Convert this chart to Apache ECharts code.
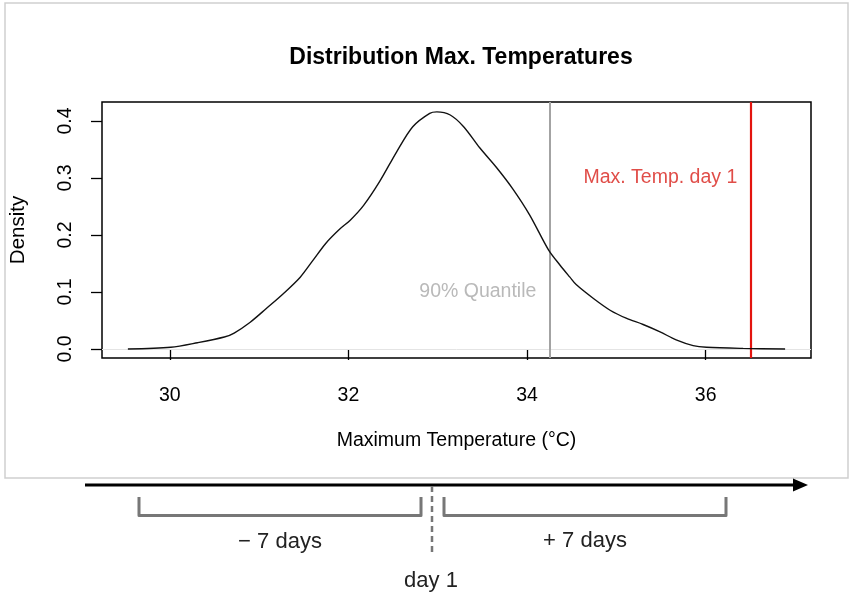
<!DOCTYPE html>
<html>
<head>
<meta charset="utf-8">
<script src="https://cdn.jsdelivr.net/npm/echarts@6/dist/echarts.min.js"></script>
<style>
  html, body { margin: 0; padding: 0; background: #fff; }
  #main { width: 851px; height: 594px; }
</style>
</head>
<body>
<div id="main"></div>
<script>
// density curve
var temps = [29.53, 30.01, 30.31, 30.61, 30.72, 30.9, 31.08, 31.27, 31.46, 31.6, 31.75, 31.9,
  32.02, 32.17, 32.35, 32.54, 32.72, 32.91, 32.99, 33.14, 33.29, 33.47, 33.66, 33.84, 34.03,
  34.24, 34.37, 34.48, 34.55, 34.74, 34.93, 35.11, 35.3, 35.49, 35.67, 35.86, 36.01, 36.42, 36.89];
var density = [0.0, 0.003, 0.011, 0.021, 0.028, 0.047, 0.071, 0.097, 0.126, 0.155, 0.186, 0.21,
  0.226, 0.252, 0.294, 0.346, 0.39, 0.4135, 0.416, 0.4105, 0.39, 0.353, 0.318, 0.281, 0.235,
  0.174, 0.147, 0.126, 0.113, 0.089, 0.068, 0.054, 0.043, 0.03, 0.016, 0.006, 0.003, 0.001, 0.0];

var xTicks = [30, 32, 34, 36];
var yTicks = [0, 0.1, 0.2, 0.3, 0.4];

var quantile90 = 34.25;
var maxTempDay1 = 36.5;
var quantileLabel = '90% Quantile';
var dayLabel = 'Max. Temp. day 1';
var quantileLabelY = 0.1;
var dayLabelY = 0.3;

var timelineLabels = ['\u2212 7 days', '+ 7 days', 'day 1'];

var font = '"Liberation Sans", Arial, Helvetica, sans-serif';
var fs = 19.5;

var chart = echarts.init(document.getElementById('main'));

var curve = temps.map(function (t, i) { return [t, density[i]]; });

var bracketStyle = { stroke: '#777', lineWidth: 3, fill: null, lineJoin: 'round' };
var timeFont = '22px ' + font;

var option = {
  backgroundColor: '#fff',
  animation: false,
  title: {
    text: 'Distribution Max. Temperatures',
    left: 456,
    top: 41,
    textAlign: 'center',
    textStyle: { fontFamily: font, fontSize: 23, fontWeight: 'bold', color: '#000' }
  },
  grid: {
    left: 101, right: 40, top: 102, bottom: 236,
    show: true, borderColor: '#000', borderWidth: 1.5, backgroundColor: 'transparent'
  },
  xAxis: {
    type: 'value',
    min: 29.24, max: 37.18,
    name: 'Maximum Temperature (\u00b0C)',
    nameLocation: 'middle',
    nameGap: 73,
    nameTextStyle: { fontFamily: font, fontSize: fs, color: '#000' },
    splitLine: { show: false },
    axisLine: { show: false },
    axisTick: { show: true, inside: false, length: 11, customValues: xTicks, lineStyle: { color: '#000', width: 1.3 } },
    axisLabel: { customValues: xTicks, margin: 28, fontFamily: font, fontSize: fs, color: '#000' }
  },
  yAxis: {
    type: 'value',
    min: -0.0158, max: 0.4333,
    name: 'Density',
    nameLocation: 'middle',
    nameGap: 73,
    nameTextStyle: { fontFamily: font, fontSize: fs + 1, color: '#000' },
    splitLine: { show: false },
    axisLine: { show: false },
    axisTick: { show: true, inside: false, length: 11, customValues: yTicks, lineStyle: { color: '#000', width: 1.3 } },
    axisLabel: {
      customValues: yTicks, rotate: 90, margin: 26,
      fontFamily: font, fontSize: fs, color: '#000',
      formatter: function (v) { return v.toFixed(1); }
    }
  },
  series: [
    {
      type: 'line',
      data: curve,
      smooth: 0.3,
      showSymbol: false,
      lineStyle: { color: '#111', width: 1.4 },
      z: 5,
      markLine: {
        silent: true,
        symbol: 'none',
        label: { show: false },
        data: [
          { yAxis: 0, lineStyle: { color: '#e4e4e4', width: 1, type: 'solid' } },
          { xAxis: quantile90, lineStyle: { color: '#a3a3a3', width: 2, type: 'solid' } },
          { xAxis: maxTempDay1, lineStyle: { color: '#e3140f', width: 2.2, type: 'solid' } }
        ]
      }
    },
    {
      type: 'scatter',
      symbolSize: 0,
      silent: true,
      data: [
        { value: [quantile90, quantileLabelY], name: quantileLabel, label: { color: '#a8a8a8' } },
        { value: [maxTempDay1, dayLabelY], name: dayLabel, label: { color: '#d8201a' } }
      ],
      label: {
        show: true,
        position: 'left',
        distance: 13,
        fontFamily: font,
        fontSize: fs,
        formatter: function (p) { return p.name; }
      }
    }
  ],
  graphic: [
    { type: 'rect', z: -1, shape: { x: 5, y: 3, width: 843, height: 475 }, style: { fill: null, stroke: '#cfcfcf', lineWidth: 1.5 } },
    { type: 'line', shape: { x1: 85, y1: 485, x2: 796, y2: 485 }, style: { stroke: '#000', lineWidth: 3 } },
    { type: 'polygon', shape: { points: [[793, 478.5], [808, 485], [793, 491.5]] }, style: { fill: '#000' } },
    { type: 'polyline', shape: { points: [[139, 497], [139, 515.5], [421, 515.5], [421, 497]] }, style: bracketStyle },
    { type: 'polyline', shape: { points: [[444, 497], [444, 515.5], [726, 515.5], [726, 497]] }, style: bracketStyle },
    { type: 'line', shape: { x1: 432, y1: 486, x2: 432, y2: 554 }, style: { stroke: '#777', lineWidth: 2.5, lineDash: [6, 4] } },
    { type: 'text', x: 280, y: 542, style: { text: timelineLabels[0], font: timeFont, fill: '#222', align: 'center', verticalAlign: 'middle' } },
    { type: 'text', x: 585, y: 541, style: { text: timelineLabels[1], font: timeFont, fill: '#222', align: 'center', verticalAlign: 'middle' } },
    { type: 'text', x: 431, y: 581, style: { text: timelineLabels[2], font: timeFont, fill: '#222', align: 'center', verticalAlign: 'middle' } }
  ]
};

chart.setOption(option);
</script>
</body>
</html>
